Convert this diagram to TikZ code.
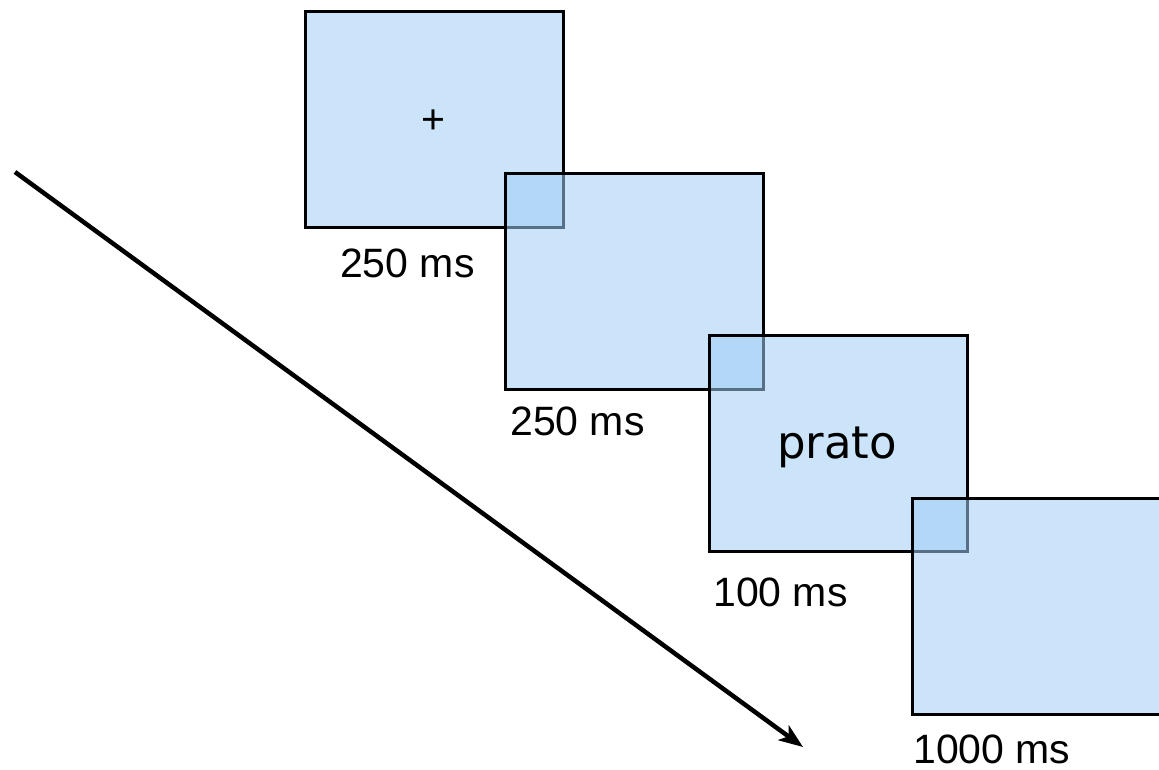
\documentclass[tikz,border=0pt]{standalone}
\usepackage{fontspec}
\setmainfont{Liberation Sans}
\newfontfamily\wordfont{DejaVu Sans}
\usetikzlibrary{arrows.meta}
\definecolor{screenblue}{RGB}{160,205,245}
\tikzset{
  screen/.style={rectangle, minimum width=258pt, minimum height=216pt,
    inner sep=0pt, anchor=north west, fill=screenblue, fill opacity=0.55,
    draw=black, draw opacity=1, text opacity=1, line width=3pt},
  timing/.style={anchor=base west, inner sep=0pt,
    font=\fontsize{41}{48}\selectfont},
  timeline/.style={line width=4.5pt, -{Stealth[length=24pt,width=18pt,inset=6pt]}}
}
\begin{document}
\begin{tikzpicture}[x=1pt, y=-1pt]
  \useasboundingbox (0,0) rectangle (1159,769);
  \clip (0,0) rectangle (1159,769);

  % four stimulus screens, each drawn over the previous one
  \node[screen] (b1) at (304,10) {};
  \node[screen] (b2) at (504,172) {};
  \node[screen] (b3) at (708,334) {};
  \node[screen] (b4) at (911,497) {};

  % screen contents
  \node[inner sep=0pt, font=\fontsize{41}{48}\selectfont] (fix) at (433,122) {+};
  \node[anchor=base west, inner sep=0pt, font=\wordfont\fontsize{45}{52}\selectfont] (word) at (777,458) {prato};

  % durations under each screen
  \node[timing] (t1) at (340,277) {250 ms};
  \node[timing] (t2) at (510,435) {250 ms};
  \node[timing] (t3) at (713,606) {100 ms};
  \node[timing] (t4) at (913,763) {1000 ms};

  % time axis
  \coordinate (tstart) at (15,172);
  \coordinate (tend) at (803,747);
  \draw[timeline] (tstart) -- (tend);
\end{tikzpicture}
\end{document}
